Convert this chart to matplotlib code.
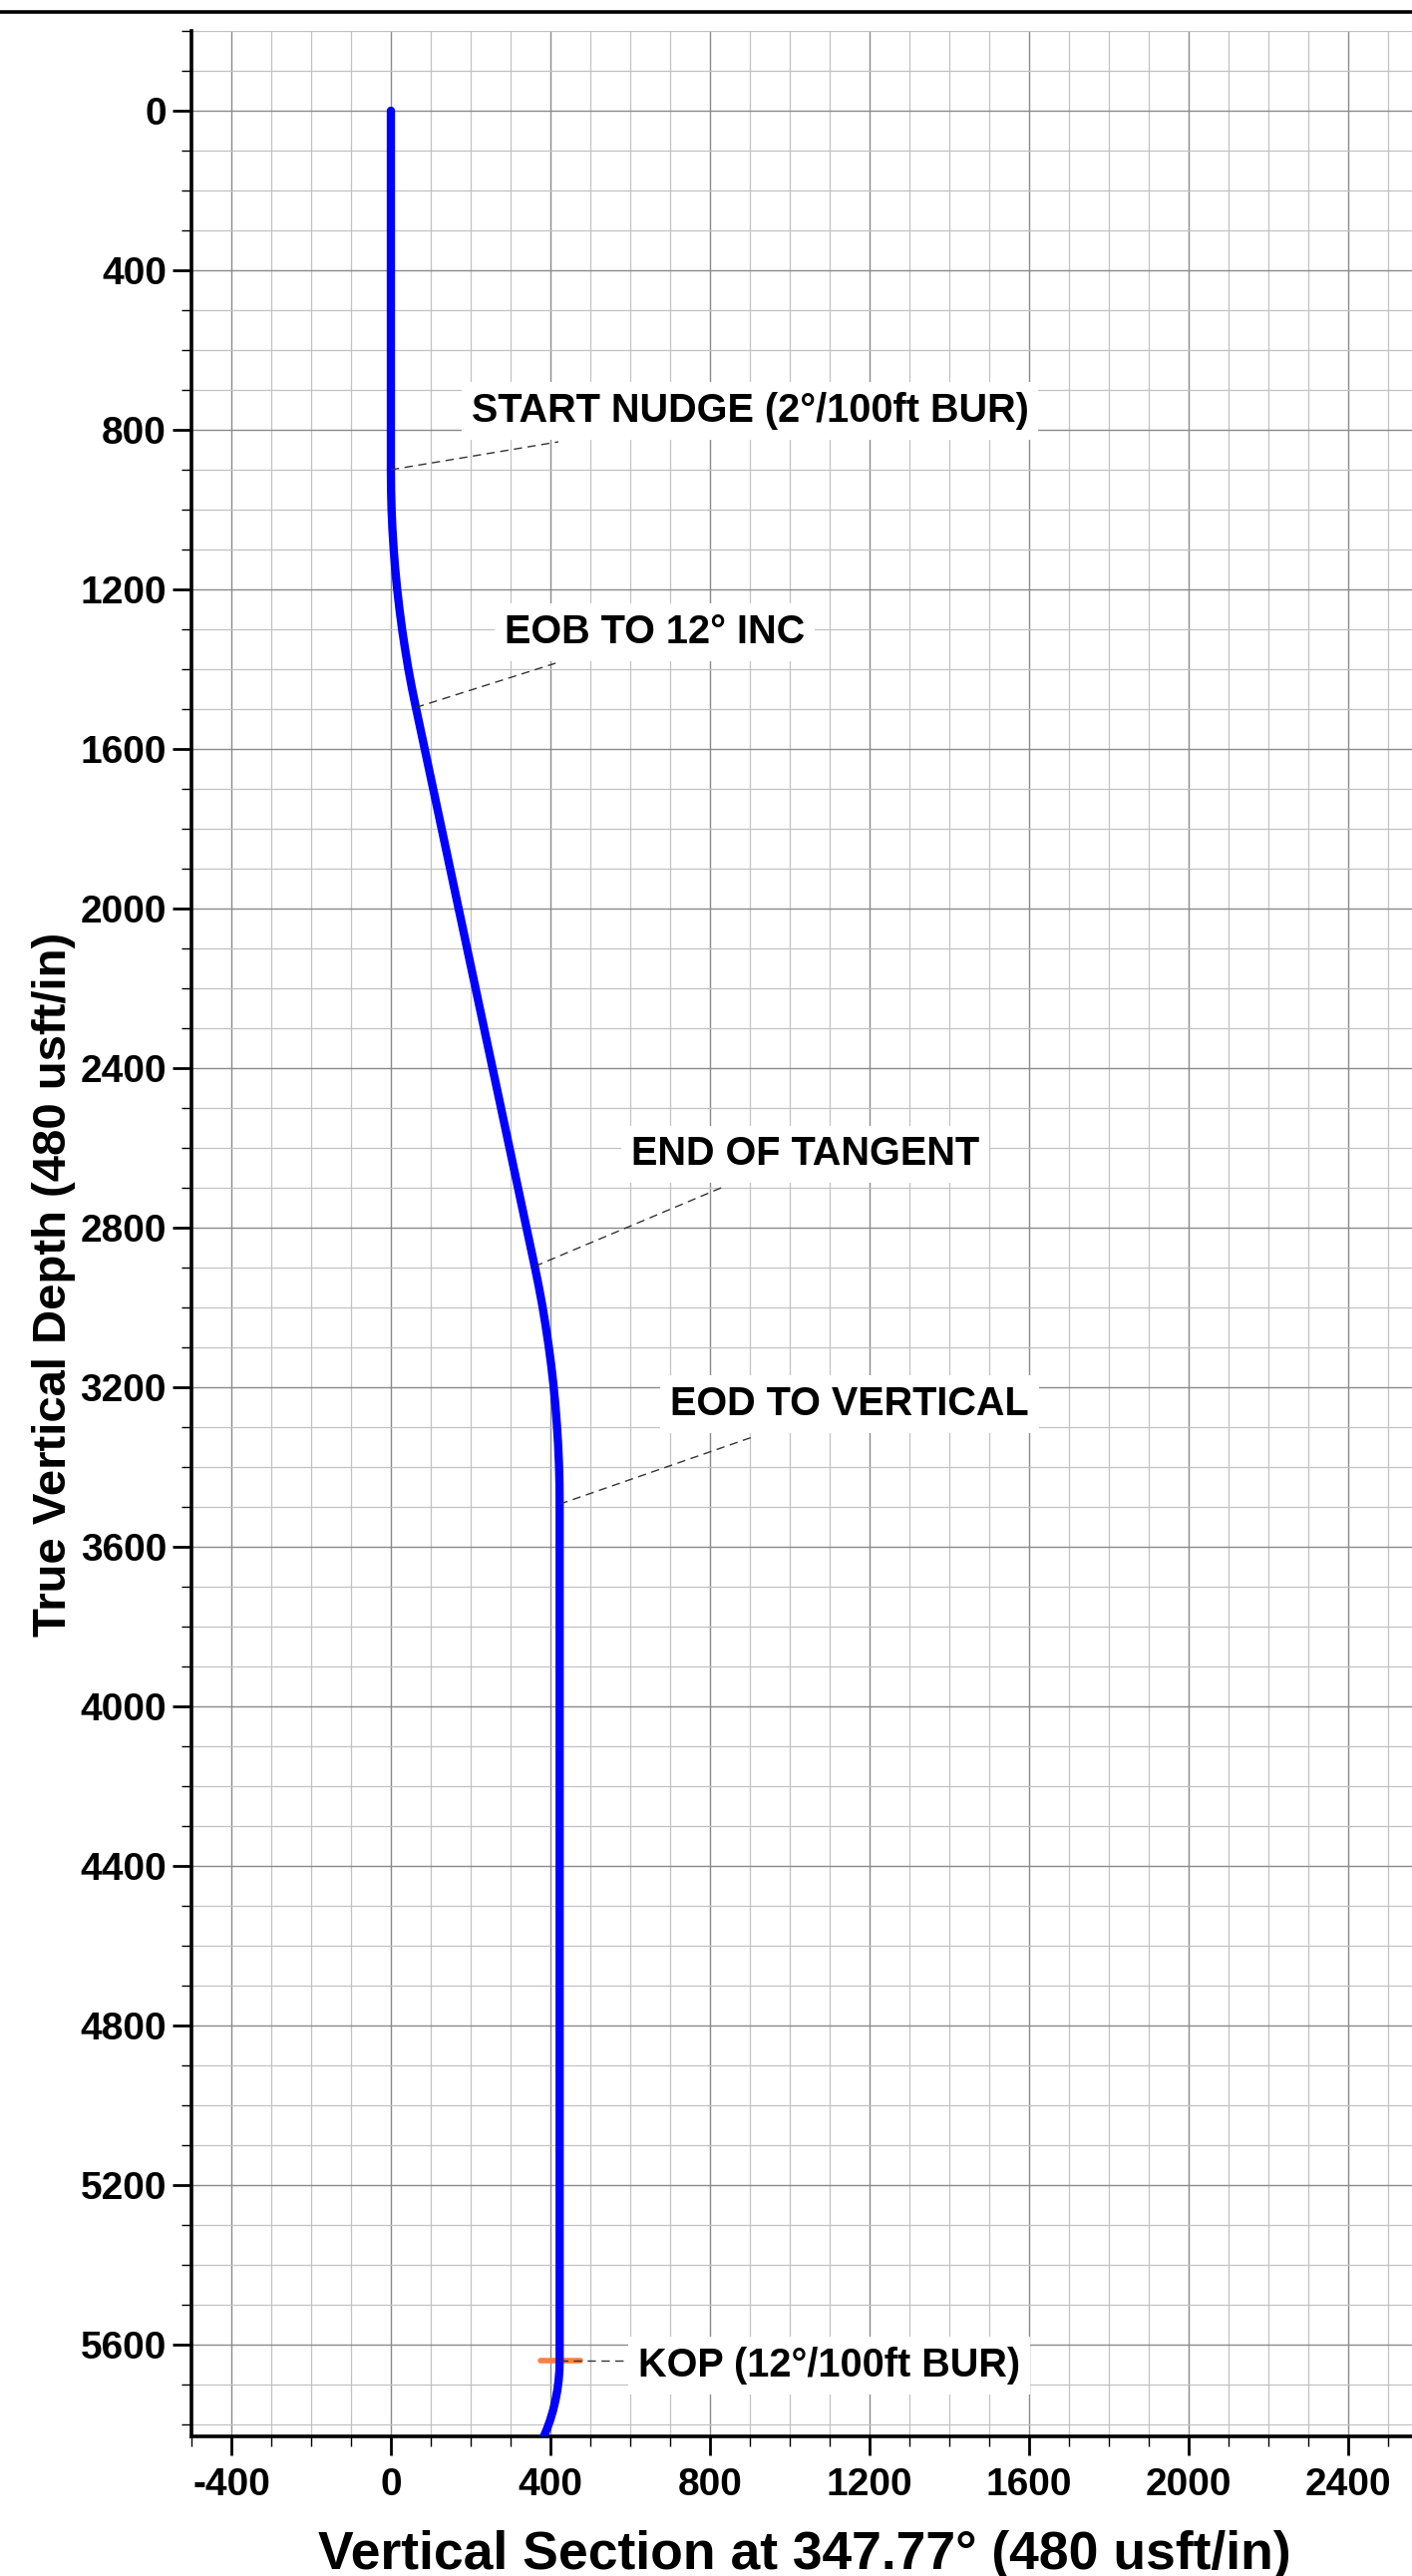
import matplotlib
matplotlib.use("Agg")
import matplotlib.pyplot as plt
from matplotlib.ticker import MultipleLocator
from matplotlib.lines import Line2D

plt.rcParams['font.family'] = ['Liberation Sans', 'DejaVu Sans']
plt.rcParams['font.weight'] = 'bold'
plt.rcParams['axes.unicode_minus'] = False

# well path: vertical section vs true vertical depth (usft)
vsec = [0, 0, 0.4, 1.7, 3.9, 7.0, 10.9, 15.7, 21.4, 27.9, 35.3, 43.5, 52.6, 62.6,
        360.5, 370.5, 379.6, 387.8, 395.2, 401.8, 407.4, 412.2, 416.1, 419.2, 421.4, 422.7, 423.1,
        423.1, 422.5, 420.5, 417.2, 412.7, 406.8, 399.7, 391.4, 381.8]
tvd = [0, 900, 950, 1000, 1050, 1100, 1150, 1199, 1249, 1299, 1348, 1398, 1447, 1496,
       2897, 2946, 2995, 3045, 3094, 3144, 3193, 3243, 3293, 3343, 3393, 3443, 3493,
       5640, 5665, 5690, 5715, 5739, 5764, 5788, 5811, 5834]

# KOP marker
kop_vs = [375, 475]
kop_tvd = [5640, 5640]

# annotations
labels = ["START NUDGE (2°/100ft BUR)", "EOB TO 12° INC", "END OF TANGENT",
          "EOD TO VERTICAL", "KOP (12°/100ft BUR)"]
pt_vs = [0, 62.6, 360.5, 423.1, 423.1]
pt_tvd = [900, 1496, 2897, 3493, 5640]
lead_vs = [420, 413, 840, 915, 595]
lead_tvd = [830, 1385, 2695, 3322, 5640]
lab_vs = [900, 662, 1038, 1150, 1098]
lab_tvd = [752, 1307, 2616, 3243, 5652]

W, H = 1416, 2583
fig = plt.figure(figsize=(W / 100, H / 100), dpi=100)
ax = fig.add_axes([192 / W, 140 / H, 1224 / W, 2412 / H])
ax.set_xlim(-500, 2560)
ax.set_ylim(5830, -200)

ax.xaxis.set_major_locator(MultipleLocator(400))
ax.xaxis.set_minor_locator(MultipleLocator(100))
ax.yaxis.set_major_locator(MultipleLocator(400))
ax.yaxis.set_minor_locator(MultipleLocator(100))
ax.set_axisbelow(True)
ax.grid(which='minor', color='#c2c2c2', lw=0.9)
ax.grid(which='major', color='#8a8a8a', lw=1.0)

for s in ['top', 'right']:
    ax.spines[s].set_visible(False)
for s in ['left', 'bottom']:
    ax.spines[s].set_linewidth(2.6)

ax.tick_params(which='major', direction='out', length=14, width=2.0, labelsize=28)
ax.tick_params(which='minor', direction='out', length=7, width=1.0)
ax.tick_params(axis='y', which='major', pad=4)
ax.tick_params(axis='x', which='major', pad=8)

ax.plot(kop_vs, kop_tvd, color='#ff7f3f', lw=4, solid_capstyle='round', zorder=2)
ax.plot(vsec, tvd, color='#0000ff', lw=6, solid_capstyle='round', zorder=3)

for i in range(len(labels)):
    ax.plot([pt_vs[i], lead_vs[i]], [pt_tvd[i], lead_tvd[i]], color='#333333',
            lw=1.0, dashes=(6, 4), zorder=4)
    ax.text(lab_vs[i], lab_tvd[i], labels[i], ha='center', va='center', fontsize=28.5,
            zorder=5, bbox=dict(boxstyle='square,pad=0.25', fc='white', ec='none'))

fig.add_artist(Line2D([0, 1], [1 - 12 / H, 1 - 12 / H], transform=fig.transFigure,
                      color='black', lw=2.6))

fig.text(54 / W, 1 - 1288 / H, 'True Vertical Depth (480 usft/in)', rotation=90,
         ha='center', va='center', fontsize=34)
fig.text(807 / W, 7 / H, 'Vertical Section at 347.77° (480 usft/in)',
         ha='center', va='baseline', fontsize=38.5)

fig.savefig('out.png', dpi=100)
